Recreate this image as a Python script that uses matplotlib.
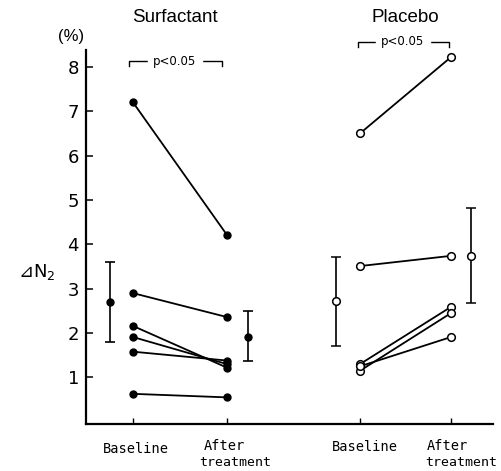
import matplotlib
matplotlib.use("Agg")
import matplotlib.pyplot as plt

# N2 washout change (%) per patient, before and after treatment
surf_baseline = [7.2, 2.9, 2.16, 1.91, 1.58, 0.63]
surf_after = [4.21, 2.36, 1.22, 1.30, 1.38, 0.55]
plac_baseline = [6.5, 3.51, 1.30, 1.15, 1.25]
plac_after = [8.22, 3.74, 2.59, 2.45, 1.91]

# group mean with range (low, high)
surf_mean = [2.7, 1.91]
surf_low = [1.8, 1.37]
surf_high = [3.6, 2.5]
plac_mean = [2.72, 3.74]
plac_low = [1.71, 2.68]
plac_high = [3.72, 4.82]

yticks = [1, 2, 3, 4, 5, 6, 7, 8]

W, H = 501, 471
fig = plt.figure(figsize=(W / 100, H / 100), dpi=100)
ax = fig.add_axes([86 / W, 1 - 424 / H, (493 - 86) / W, (424 - 50) / H])


def px(x, y):
    return x / W, 1 - y / H


# x positions (px-like units along the axis)
x_surf = [133, 227]
x_surf_err = [110, 248]
x_plac = [360, 451]
x_plac_err = [336, 471]

for b, a in zip(surf_baseline, surf_after):
    ax.plot(x_surf, [b, a], "-o", color="black", lw=1.3, ms=5,
            mfc="black", mec="black", zorder=3)
for b, a in zip(plac_baseline, plac_after):
    ax.plot(x_plac, [b, a], "-o", color="black", lw=1.3, ms=5.5,
            mfc="white", mec="black", mew=1.1, zorder=3)

for i in range(2):
    ax.errorbar(x_surf_err[i], surf_mean[i],
                yerr=[[surf_mean[i] - surf_low[i]], [surf_high[i] - surf_mean[i]]],
                fmt="o", color="black", ms=5, capsize=3.5, elinewidth=1.2,
                capthick=1.2)
    ax.errorbar(x_plac_err[i], plac_mean[i],
                yerr=[[plac_mean[i] - plac_low[i]], [plac_high[i] - plac_mean[i]]],
                fmt="o", color="black", mfc="white", ms=5.5, mew=1.1,
                capsize=3.5, elinewidth=1.2, capthick=1.2, zorder=4)

ax.set_xlim(86, 493)
ax.set_ylim(-0.05, 8.38)
ax.spines["top"].set_visible(False)
ax.spines["right"].set_visible(False)
ax.spines["left"].set_linewidth(1.6)
ax.spines["bottom"].set_linewidth(1.6)

ax.set_yticks(yticks)
ax.set_yticklabels([str(t) for t in yticks], fontsize=13)
ax.tick_params(axis="y", direction="in", length=5, width=1.1, pad=5)
ax.set_xticks(x_surf + x_plac)
ax.set_xticklabels([])
ax.tick_params(axis="x", direction="in", length=4, width=1.0)

mono = "DejaVu Sans Mono"
fig.text(*px(136, 449), "Baseline", family=mono, fontsize=9.8,
         ha="center", va="center")
fig.text(*px(365, 447), "Baseline", family=mono, fontsize=9.8,
         ha="center", va="center")
for xa, xt in ((204, 199), (427, 425)):
    fig.text(*px(xa, 446), "After", family=mono, fontsize=9.8,
             ha="left", va="center")
    fig.text(*px(xt, 462), "treatment", family=mono, fontsize=9.5,
             ha="left", va="center")

fig.text(*px(175, 17), "Surfactant", fontsize=13.5, ha="center", va="center",
         family="Liberation Sans")
fig.text(*px(405, 17), "Placebo", fontsize=13.5, ha="center", va="center",
         family="Liberation Sans")
fig.text(*px(71, 37), "(%)", fontsize=12, ha="center", va="center",
         family="Liberation Sans")
fig.text(*px(37, 272), "⊿N$_2$", fontsize=13, ha="center", va="center")

# significance brackets
for x0, x1, y, tx in [(129, 222, 61, 175), (358, 449, 42, 403)]:
    fx0, fy = px(x0, y)
    fx1, _ = px(x1, y)
    _, fy2 = px(x0, y + 5)
    fig.add_artist(plt.Line2D([fx0, fx0, fx1, fx1], [fy2, fy, fy, fy2],
                              color="black", lw=1.0))
    fig.text(*px(tx, y), "p<0.05", fontsize=8.5, ha="center", va="center",
             family="DejaVu Sans", backgroundcolor="white")

fig.savefig("out.png", dpi=100)
